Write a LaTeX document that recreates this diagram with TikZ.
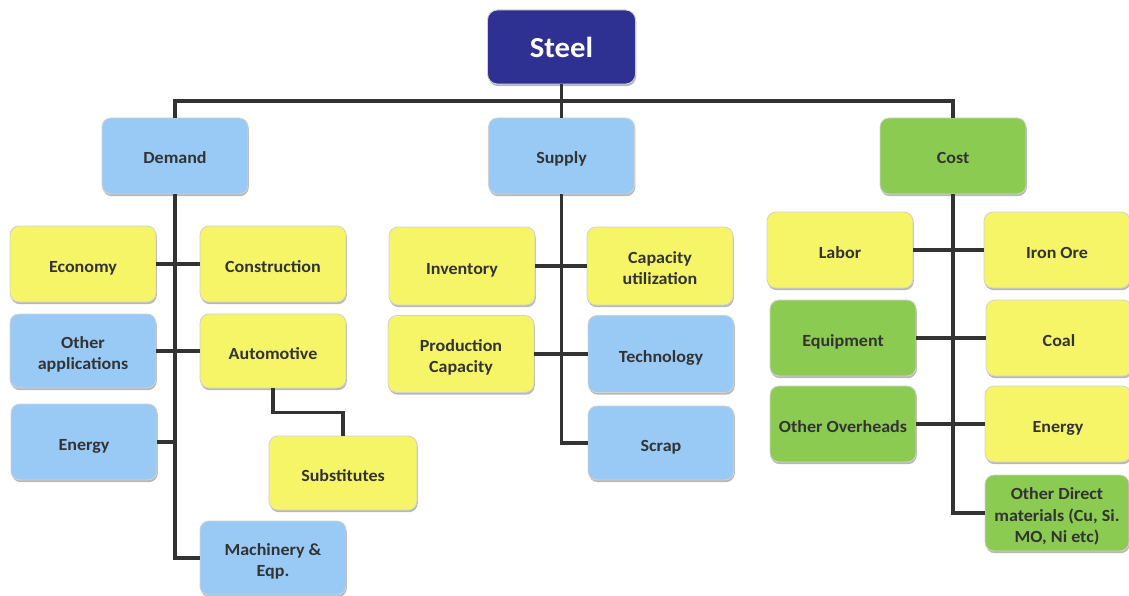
\documentclass[tikz,border=0pt]{standalone}
\usepackage{fontspec}
\setmainfont{Carlito}[FakeStretch=1.06]
\usetikzlibrary{shadows}
\definecolor{navybox}{HTML}{2E3192}
\definecolor{bluebox}{HTML}{99CAF6}
\definecolor{yellowbox}{HTML}{F6F567}
\definecolor{greenbox}{HTML}{8CCB51}
\definecolor{inkgray}{HTML}{333333}
\definecolor{wire}{HTML}{333333}
% struts that put the text block a little below the box centre
\newcommand\topstrut[1]{\rule{0pt}{#1}}
\newcommand\botstrut[1]{\rule[-#1]{0pt}{#1}}
\newcommand\firstline{\topstrut{21pt}}
\tikzset{
  box/.style={draw=black!18, line width=0.8pt, rounded corners=9pt,
    minimum width=146pt, minimum height=76pt, align=center, inner sep=1pt,
    text=inkgray, font=\fontsize{17}{21.5}\selectfont\bfseries,
    execute at begin node=\topstrut{21pt}, execute at end node=\botstrut{5pt},
    drop shadow={shadow xshift=0.8pt, shadow yshift=-2.2pt, opacity=0.28, fill=black}},
  bluenode/.style={box, fill=bluebox},
  yellownode/.style={box, fill=yellowbox},
  greennode/.style={box, fill=greenbox},
  topnode/.style={draw=black!18, line width=0.8pt, rounded corners=10pt,
    fill=navybox, text=white, minimum width=148pt, minimum height=74pt, inner sep=1pt,
    font=\fontsize{29}{32}\selectfont\bfseries,
    execute at begin node=\topstrut{30pt}, execute at end node=\botstrut{8pt},
    drop shadow={shadow xshift=0.8pt, shadow yshift=-2.2pt, opacity=0.28, fill=black}},
  link/.style={draw=wire, line width=3.4pt},
}
\begin{document}
\begin{tikzpicture}[x=1pt, y=-1pt]
\useasboundingbox (0,0) rectangle (1129,596);

% root
\node[topnode] (steel) at (561.5,47) {Steel};

% first level
\node[bluenode]   (demand) at (175,156) {Demand};
\node[bluenode]   (supply) at (561.5,156) {Supply};
\node[greennode]  (cost)   at (953,156) {Cost};

% demand drivers
\node[yellownode] (economy)   at (83,264)  {Economy};
\node[yellownode] (constr)    at (273,264) {Construction};
\node[bluenode, minimum height=74pt] (otherapp) at (83,351) {\firstline Other\\applications};
\node[yellownode, minimum height=74pt] (auto) at (273,351) {Automotive};
\node[bluenode]   (energyl)   at (84,442)  {Energy};
\node[yellownode, minimum width=148pt, minimum height=74pt] (subst) at (343,473) {Substitutes};
\node[bluenode, minimum height=74pt] (mach) at (273,558) {\firstline Machinery \&\\Eqp.};

% supply drivers
\node[yellownode, minimum height=78pt] (inventory) at (462,266) {Inventory};
\node[yellownode, minimum height=78pt] (caputil)   at (660,266) {\firstline Capacity\\utilization};
\node[yellownode, minimum height=77pt] (prodcap)   at (461,354) {\firstline Production\\Capacity};
\node[bluenode, minimum height=77pt]   (tech)      at (661,354) {Technology};
\node[bluenode, minimum height=74pt]   (scrap)     at (661,443) {Scrap};

% cost drivers
\node[yellownode] (labor)     at (840,250)  {Labor};
\node[yellownode] (ironore)   at (1057,250) {Iron Ore};
\node[greennode]  (equip)     at (843,338)  {Equipment};
\node[yellownode] (coal)      at (1059,338) {Coal};
\node[greennode]  (overheads) at (843,424)  {Other Overheads};
\node[yellownode] (energyr)   at (1058,424) {Energy};
\node[greennode, minimum width=144pt] (otherdirect) at (1057,513) {\firstline Other Direct\\materials (Cu, Si.\\MO, Ni etc)};

% root to first level
\coordinate (bus) at (0,101);
\draw[link] (steel.south) -- (supply.north);
\draw[link] (demand.north) -- (demand.north |- bus) -| (cost.north);

% demand branch
\draw[link] (demand.south) |- (mach.west);
\draw[link] (economy.east) -- (constr.west);
\draw[link] (otherapp.east) -- (auto.west);
\draw[link] (energyl.east) -- (energyl.east -| demand.south);
\draw[link] (auto.south) -- ++(0,24) -| (subst.north);

% supply branch
\draw[link] (supply.south) |- (scrap.west);
\draw[link] (inventory.east) -- (caputil.west);
\draw[link] (prodcap.east) -- (tech.west);

% cost branch
\draw[link] (cost.south) |- (otherdirect.west);
\draw[link] (labor.east) -- (ironore.west);
\draw[link] (equip.east) -- (coal.west);
\draw[link] (overheads.east) -- (energyr.west);
\end{tikzpicture}
\end{document}
